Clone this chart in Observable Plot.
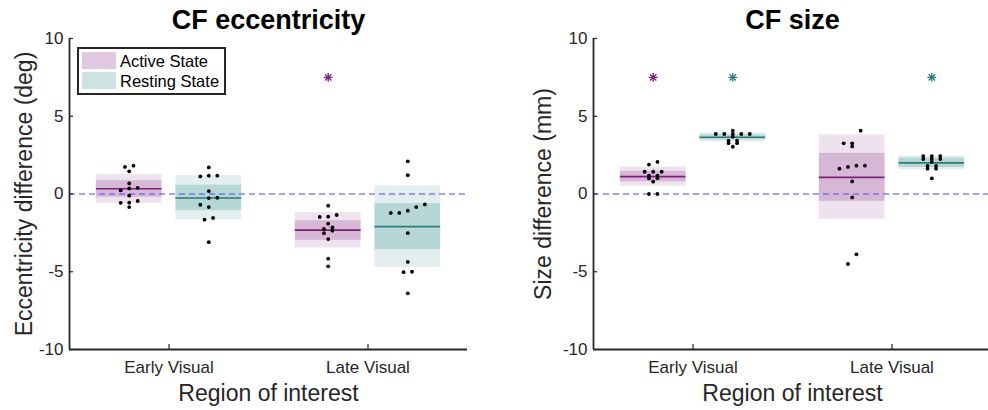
<!DOCTYPE html>
<html><head><meta charset="utf-8">
<script src="https://cdn.jsdelivr.net/npm/d3@7"></script>
<script src="https://cdn.jsdelivr.net/npm/@observablehq/plot@0.6"></script>
<style>
html,body{margin:0;padding:0;background:#fff;overflow:hidden}
#wrap{position:relative;width:988px;height:410px;overflow:hidden;font-family:"Liberation Sans",Arial,Helvetica,sans-serif}
#wrap svg{position:absolute;top:0}
#legend{position:absolute;left:77px;top:47px;width:149px;height:48px;box-sizing:border-box;border:2px solid #262626;background:#fff}
.sw{position:absolute;left:3px;width:34px;height:17px}
.lt{position:absolute;left:41px;font-size:16.5px;line-height:20px;color:#000;white-space:nowrap}
</style></head><body>
<div id="wrap"></div>
<script>
// ---------- data ----------
const regions = ["Early Visual", "Late Visual"];
const states = ["Active State", "Resting State"];
const yTicks = [-10, -5, 0, 5, 10];
const sigLevel = 7.5;

// CF eccentricity (deg): individual differences
const eccActiveEarly  = [1.82, 1.74, 1.46, 0.68, 0.39, 0.36, 0.23, -0.11, -0.45, -0.56, -0.57, -0.84];
const eccRestingEarly = [1.71, 1.18, 1.18, 1.13, 0.19, -0.24, -0.26, -0.69, -0.84, -1.54, -1.65, -3.1];
const eccActiveLate   = [-0.75, -1.35, -1.46, -1.48, -1.91, -2.15, -2.25, -2.36, -2.52, -2.9, -4.16, -4.65];
const eccRestingLate  = [2.1, 1.21, -0.67, -0.84, -1.07, -1.22, -1.22, -2.51, -4.37, -5.0, -5.03, -6.39];
// group order: Early/Active, Early/Resting, Late/Active, Late/Resting
const eccMean      = [0.34, -0.26, -2.32, -2.1];
const eccInnerLow  = [-0.21, -1.07, -2.98, -3.58];
const eccInnerHigh = [0.86, 0.57, -1.72, -0.62];
const eccOuterLow  = [-0.6, -1.67, -3.47, -4.72];
const eccOuterHigh = [1.24, 1.18, -1.2, 0.53];
const eccSignificant = [false, false, true, false];

// CF size (mm)
const sizeActiveEarly  = [2.06, 1.89, 1.43, 1.43, 1.43, 1.18, 1.18, 1.02, 1.0, 0.79, 0, 0];
const sizeRestingEarly = [4.07, 3.86, 3.86, 3.86, 3.86, 3.86, 3.68, 3.43, 3.43, 3.27, 3.27, 3.04];
const sizeActiveLate   = [4.07, 3.26, 3.26, 3.06, 1.82, 1.82, 1.74, 1.63, 0.81, -0.22, -3.88, -4.5];
const sizeRestingLate  = [2.44, 2.44, 2.44, 2.25, 2.25, 2.25, 2.06, 1.8, 1.8, 1.63, 1.63, 1.0];
const sizeMean      = [1.12, 3.65, 1.07, 2.0];
const sizeInnerLow  = [0.78, 3.48, -0.47, 1.71];
const sizeInnerHigh = [1.46, 3.8, 2.61, 2.31];
const sizeOuterLow  = [0.5, 3.35, -1.63, 1.56];
const sizeOuterHigh = [1.74, 3.94, 3.8, 2.44];
const sizeSignificant = [true, true, false, true];

// ---------- styles ----------
const colors = {
  "Active State":  {light: "#efe2ef", dark: "#d6b8d6", line: "#7d1f7d", swatch: "#e0c9e0"},
  "Resting State": {light: "#e3eeee", dark: "#b6d7d6", line: "#2b7c78", swatch: "#cde2e1"}
};
const axisColor = "#262626";
const PX = 2 / 398;            // data units per pixel along x
const OFFSET = 0.2, HALF = 0.165, STEP = 8.5 * PX;

function spread(values, center) {
  const min = d3.min(values), max = d3.max(values), bw = (max - min) / 10 || 1;
  const bins = d3.group(values.map(v => ({v})), d => Math.min(9, Math.floor((d.v - min) / bw)));
  const out = [];
  for (const [, pts] of bins) {
    pts.sort((a, b) => a.v - b.v);
    pts.forEach((p, k) => out.push({x: center + (k - (pts.length - 1) / 2) * STEP, y: p.v}));
  }
  return out;
}

function makeGroups(points, mean, iLo, iHi, oLo, oHi, sig) {
  return points.map((pts, g) => {
    const r = Math.floor(g / 2), s = g % 2;
    const c = (r + 1) + (s === 0 ? -OFFSET : OFFSET);
    return {state: states[s], region: regions[r], c, xl: c - HALF, xr: c + HALF,
      mean: mean[g], iLo: iLo[g], iHi: iHi[g], oLo: oLo[g], oHi: oHi[g], sig: sig[g],
      dots: spread(pts, c)};
  });
}

function panel({groups, title, ylabel, marginLeft, width, marginRight, ylabelDx}) {
  const marks = [];
  for (const s of states) {
    const gs = groups.filter(d => d.state === s);
    marks.push(Plot.rect(gs, {x1: "xl", x2: "xr", y1: "oLo", y2: "oHi", fill: colors[s].light}));
    marks.push(Plot.rect(gs, {x1: "xl", x2: "xr", y1: "iLo", y2: "iHi", fill: colors[s].dark}));
  }
  marks.push(Plot.ruleY([0], {stroke: "#4848f0", strokeWidth: 1.1, strokeDasharray: "6,4"}));
  for (const s of states) {
    const gs = groups.filter(d => d.state === s);
    marks.push(Plot.ruleY(gs, {y: "mean", x1: "xl", x2: "xr", stroke: colors[s].line, strokeWidth: 1.6}));
    const sg = gs.filter(d => d.sig).map(d => ({x: d.c, y: sigLevel}));
    marks.push(Plot.dot(sg, {x: "x", y: "y", symbol: "plus", r: 3, stroke: colors[s].line, strokeWidth: 1.3}));
    marks.push(Plot.dot(sg, {x: "x", y: "y", symbol: "times", r: 3, stroke: colors[s].line, strokeWidth: 1.3}));
  }
  marks.push(Plot.dot(groups.flatMap(d => d.dots), {x: "x", y: "y", r: 1.9, fill: "black", stroke: "none"}));
  // axes
  marks.push(Plot.ruleX([0.5], {stroke: axisColor, strokeWidth: 1.8}));
  marks.push(Plot.ruleY([-10], {stroke: axisColor, strokeWidth: 1.8}));
  marks.push(Plot.ruleY(yTicks, {y: d => d, x1: 0.5, x2: 0.5 + 4 * PX, stroke: axisColor, strokeWidth: 1.2}));
  marks.push(Plot.ruleX([1, 2], {x: d => d, y1: -10, y2: -10 + 5 * 20 / 311, stroke: axisColor, strokeWidth: 1.2}));
  marks.push(Plot.axisY({ticks: yTicks, tickSize: 0, tickPadding: 6, fontSize: 17, label: null, tickFormat: d => String(d)}));
  marks.push(Plot.axisX({ticks: [1, 2], tickSize: 0, tickPadding: 11, fontSize: 17, label: null, tickFormat: d => regions[d - 1]}));
  marks.push(Plot.text([title], {text: d => d, frameAnchor: "top", textAnchor: "middle", lineAnchor: "middle", dy: -18, fontSize: 27, fontWeight: "bold", fill: "black"}));
  marks.push(Plot.text([ylabel], {text: d => d, frameAnchor: "left", textAnchor: "middle", lineAnchor: "middle", rotate: -90, dx: ylabelDx, fontSize: 23, fill: axisColor}));
  marks.push(Plot.text(["Region of interest"], {text: d => d, frameAnchor: "bottom", textAnchor: "middle", lineAnchor: "middle", dy: 44, fontSize: 23, fill: axisColor}));
  return Plot.plot({
    width, height: 410, marginLeft, marginRight, marginTop: 38, marginBottom: 61,
    x: {domain: [0.5, 2.5]}, y: {domain: [-10, 10]},
    style: {fontFamily: '"Liberation Sans", Arial, Helvetica, sans-serif', color: axisColor, background: "transparent", overflow: "visible"},
    marks
  });
}

const eccGroups = makeGroups([eccActiveEarly, eccRestingEarly, eccActiveLate, eccRestingLate],
  eccMean, eccInnerLow, eccInnerHigh, eccOuterLow, eccOuterHigh, eccSignificant);
const sizeGroups = makeGroups([sizeActiveEarly, sizeRestingEarly, sizeActiveLate, sizeRestingLate],
  sizeMean, sizeInnerLow, sizeInnerHigh, sizeOuterLow, sizeOuterHigh, sizeSignificant);

const wrap = document.getElementById("wrap");
const left = panel({groups: eccGroups, title: "CF eccentricity", ylabel: "Eccentricity difference (deg)",
  marginLeft: 69, marginRight: 27, width: 494, ylabelDx: -45});
left.style.left = "0px";
const right = panel({groups: sizeGroups, title: "CF size", ylabel: "Size difference (mm)",
  marginLeft: 99, marginRight: 0, width: 497, ylabelDx: -50});
right.style.left = "494px";
wrap.appendChild(left);
wrap.appendChild(right);

// legend
const lg = document.createElement("div");
lg.id = "legend";
states.forEach((s, i) => {
  const sw = document.createElement("div");
  sw.className = "sw"; sw.style.top = (3 + i * 20) + "px"; sw.style.background = colors[s].swatch;
  const t = document.createElement("div");
  t.className = "lt"; t.style.top = (2 + i * 20) + "px"; t.textContent = s;
  lg.appendChild(sw); lg.appendChild(t);
});
wrap.appendChild(lg);
</script>
</body></html>
